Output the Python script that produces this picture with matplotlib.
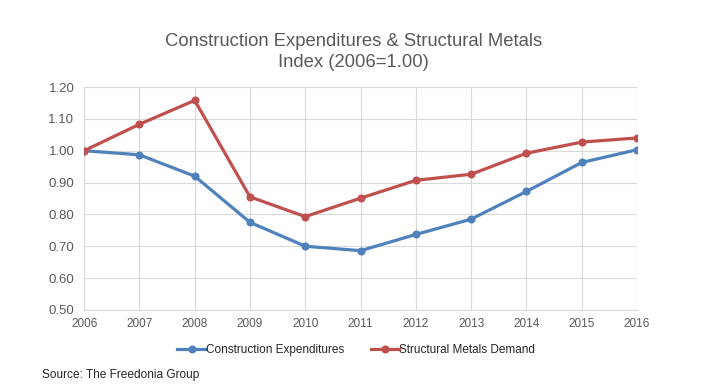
import matplotlib
matplotlib.use("Agg")
import matplotlib.pyplot as plt

plt.rcParams["font.family"] = ["Liberation Sans", "DejaVu Sans"]

years = [2006, 2007, 2008, 2009, 2010, 2011, 2012, 2013, 2014, 2015, 2016]
construction = [1.00, 0.987, 0.92, 0.775, 0.70, 0.686, 0.737, 0.785, 0.872, 0.963, 1.003]
metals = [1.00, 1.083, 1.158, 0.855, 0.793, 0.851, 0.907, 0.926, 0.992, 1.027, 1.040]
yticks = [0.5, 0.6, 0.7, 0.8, 0.9, 1.0, 1.1, 1.2]

text_color = "#595959"
blue = "#4f81bd"
red = "#c0504d"

fig = plt.figure(figsize=(7.07, 3.85), dpi=100)
ax = fig.add_axes([0.119, 0.195, 0.782, 0.579])

ax.plot(years, construction, color=blue, linewidth=2.3, marker="o", markersize=4.8,
        label="Construction Expenditures", zorder=3)
ax.plot(years, metals, color=red, linewidth=2.3, marker="o", markersize=4.8,
        label="Structural Metals Demand", zorder=3)

ax.set_xlim(2006, 2016)
ax.set_ylim(0.5, 1.2)
ax.set_xticks(years)
ax.set_yticks(yticks)
ax.set_yticklabels([f"{v:.2f}" for v in yticks])
ax.grid(True, color="#d9d9d9", linewidth=0.8)
ax.set_axisbelow(True)
for side in ["top", "right"]:
    ax.spines[side].set_visible(False)
for side in ["left", "bottom"]:
    ax.spines[side].set_color("#d9d9d9")
ax.tick_params(length=0, colors=text_color)
ax.tick_params(axis="y", labelsize=9.5, pad=7)
ax.tick_params(axis="x", labelsize=8.5, pad=6)

fig.text(0.5, 0.865, "Construction Expenditures & Structural Metals\nIndex (2006=1.00)",
         ha="center", va="center", fontsize=13.3, color=text_color, linespacing=1.25)

fig.legend(loc="center", bbox_to_anchor=(0.504, 0.091), ncol=2, frameon=False,
           fontsize=8.5, handlelength=2.4, handletextpad=0.05, columnspacing=2.2,
           labelcolor="#262626")

fig.text(0.059, 0.026, "Source: The Freedonia Group", fontsize=8.6, color="#262626",
         va="center")

fig.savefig("out.png", dpi=100)
